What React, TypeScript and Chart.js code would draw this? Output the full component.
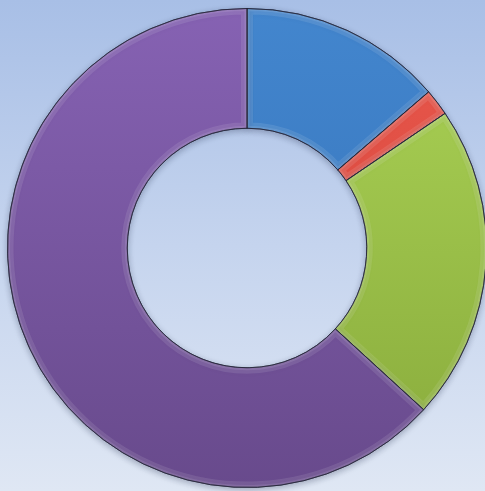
import React, { useEffect, useRef } from "react";
import { Chart, registerables } from "chart.js";

Chart.register(...registerables);

const categories = ["Series A", "Series B", "Series C", "Series D"];
const values = [13.7, 1.8, 21.3, 63.2];
const topColors = ["#4386ce", "#ec5a4e", "#abd356", "#8662b3"];
const bottomColors = ["#336fb5", "#c83a32", "#88aa3b", "#684a8c"];

const shadowPlugin = {
  id: "ringShadow",
  beforeDatasetDraw(chart: any) {
    const ctx = chart.ctx;
    ctx.save();
    ctx.shadowColor = "rgba(40,50,80,0.35)";
    ctx.shadowBlur = 6;
    ctx.shadowOffsetY = 2;
  },
  afterDatasetDraw(chart: any) {
    chart.ctx.restore();
  },
};

const bevelPlugin = {
  id: "bevel",
  afterDatasetsDraw(chart: any) {
    const ctx = chart.ctx;
    const meta = chart.getDatasetMeta(0);
    meta.data.forEach((arc: any) => {
      const p = arc.getProps(["x", "y", "startAngle", "endAngle", "innerRadius", "outerRadius"], true);
      const path = () => {
        ctx.beginPath();
        ctx.arc(p.x, p.y, p.outerRadius, p.startAngle, p.endAngle);
        ctx.arc(p.x, p.y, p.innerRadius, p.endAngle, p.startAngle, true);
        ctx.closePath();
      };
      ctx.save();
      path();
      ctx.clip();
      ctx.lineJoin = "miter";
      path();
      ctx.strokeStyle = "rgba(255,255,255,0.10)";
      ctx.lineWidth = 12;
      ctx.stroke();
      ctx.strokeStyle = "rgba(255,255,255,0.10)";
      ctx.lineWidth = 5;
      ctx.stroke();
      ctx.restore();
      ctx.save();
      path();
      ctx.strokeStyle = "rgba(30,30,50,0.7)";
      ctx.lineWidth = 1;
      ctx.stroke();
      ctx.restore();
    });
  },
};

export default function App() {
  const ref = useRef<HTMLCanvasElement>(null);
  useEffect(() => {
    if (!ref.current) return;
    const chart = new Chart(ref.current, {
      type: "doughnut",
      data: {
        labels: categories,
        datasets: [
          {
            data: values,
            backgroundColor: (c: any) => {
              const area = c.chart.chartArea;
              if (!area) return topColors[c.dataIndex];
              const g = c.chart.ctx.createLinearGradient(0, area.top, 0, area.bottom);
              g.addColorStop(0, topColors[c.dataIndex]);
              g.addColorStop(1, bottomColors[c.dataIndex]);
              return g;
            },
            borderColor: "rgba(30,30,50,0.75)",
            borderWidth: 1,
            borderJoinStyle: "miter",
          } as any,
        ],
      },
      options: {
        responsive: false,
        animation: false,
        cutout: "50%",
        layout: { padding: 7 },
        plugins: { legend: { display: false }, tooltip: { enabled: false } },
      },
      plugins: [shadowPlugin, bevelPlugin],
    });
    return () => chart.destroy();
  }, []);
  return (
    <div
      style={{
        position: "fixed",
        left: 0,
        top: 0,
        width: 485,
        height: 491,
        overflow: "hidden",
        background: "linear-gradient(to bottom, #a8bfe6 0%, #c5d4ee 50%, #dfe7f4 100%)",
      }}
    >
      <canvas ref={ref} width={494} height={496} style={{ display: "block" }} />
    </div>
  );
}
